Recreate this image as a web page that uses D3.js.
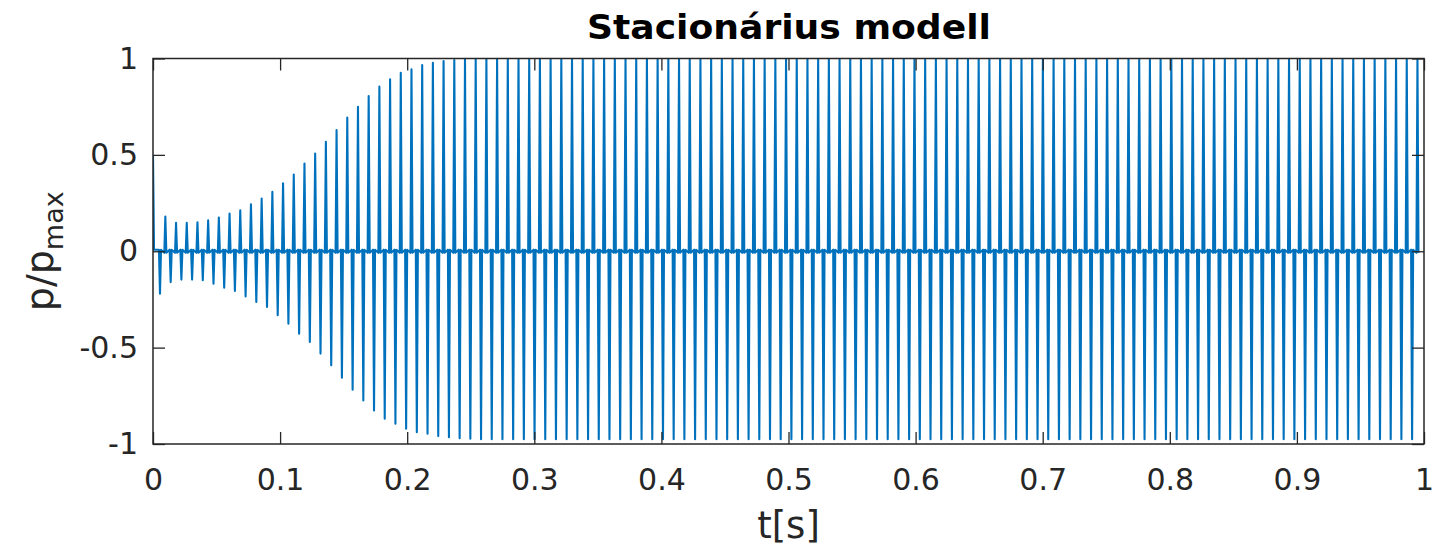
<!DOCTYPE html>
<html>
<head>
<meta charset="utf-8">
<script src="https://cdn.jsdelivr.net/npm/d3@7"></script>
<style>
  html, body { margin: 0; padding: 0; background: #fff; }
  svg { display: block; font-family: "DejaVu Sans", sans-serif; }
</style>
</head>
<body>
<svg id="chart" width="1437" height="546"></svg>
<script>
// values
var startValue = 0.5;        // p/pmax at t = 0
var firstNegPeak = 0.0055;   // s
var period = 0.00842;        // s, one oscillation
var spikeHalf = 0.0008;      // s, half width of a spike at its foot
var ripple = 0.008;          // small wiggle around zero between spikes

var upperPeaks = [
  0.18, 0.147, 0.147, 0.15, 0.16, 0.175, 0.196, 0.213, 0.244, 0.274,
  0.308, 0.352, 0.398, 0.455, 0.507, 0.568, 0.629, 0.694, 0.75, 0.805,
  0.854, 0.892, 0.926, 0.944, 0.966, 0.978, 0.987, 0.992, 0.996, 1,
  1, 1, 1, 1, 1, 1, 1, 1, 1, 1,
  1, 1, 1, 1, 1, 1, 1, 1, 1, 1,
  1, 1, 1, 1, 1, 1, 1, 1, 1, 1,
  1, 1, 1, 1, 1, 1, 1, 1, 1, 1,
  1, 1, 1, 1, 1, 1, 1, 1, 1, 1,
  1, 1, 1, 1, 1, 1, 1, 1, 1, 1,
  1, 1, 1, 1, 1, 1, 1, 1, 1, 1,
  1, 1, 1, 1, 1, 1, 1, 1, 1, 1,
  1, 1, 1, 1, 1, 1, 1, 1
];
var lowerPeaks = [
  -0.22, -0.16, -0.147, -0.147, -0.15, -0.168, -0.189, -0.206, -0.234, -0.263,
  -0.289, -0.332, -0.376, -0.428, -0.471, -0.531, -0.592, -0.656, -0.718, -0.774,
  -0.826, -0.869, -0.895, -0.921, -0.939, -0.947, -0.959, -0.965, -0.97, -0.973,
  -0.975, -0.975, -0.975, -0.975, -0.975, -0.975, -0.975, -0.975, -0.975, -0.975,
  -0.975, -0.975, -0.975, -0.975, -0.975, -0.975, -0.975, -0.975, -0.975, -0.975,
  -0.975, -0.975, -0.975, -0.975, -0.975, -0.975, -0.975, -0.975, -0.975, -0.975,
  -0.975, -0.975, -0.975, -0.975, -0.975, -0.975, -0.975, -0.975, -0.975, -0.975,
  -0.975, -0.975, -0.975, -0.975, -0.975, -0.975, -0.975, -0.975, -0.975, -0.975,
  -0.975, -0.975, -0.975, -0.975, -0.975, -0.975, -0.975, -0.975, -0.975, -0.975,
  -0.975, -0.975, -0.975, -0.975, -0.975, -0.975, -0.975, -0.975, -0.975, -0.975,
  -0.975, -0.975, -0.975, -0.975, -0.975, -0.975, -0.975, -0.975, -0.975, -0.975,
  -0.975, -0.975, -0.975, -0.975, -0.975, -0.975, -0.975, -0.975
];

var xTicks = [0, 0.1, 0.2, 0.3, 0.4, 0.5, 0.6, 0.7, 0.8, 0.9, 1];
var xTickLabels = ['0', '0.1', '0.2', '0.3', '0.4', '0.5', '0.6', '0.7', '0.8', '0.9', '1'];
var yTicks = [-1, -0.5, 0, 0.5, 1];
var yTickLabels = ['-1', '-0.5', '0', '0.5', '1'];

var titleText = 'Stacionárius modell';

var margin = {top: 58.5, right: 13, bottom: 102, left: 153};
var width = 1437 - margin.left - margin.right;
var height = 546 - margin.top - margin.bottom;
var ink = '#262626';
var lineColor = '#0072bd';

var svg = d3.select('#chart');
var g = svg.append('g').attr('transform', 'translate(' + margin.left + ',' + margin.top + ')');

var x = d3.scaleLinear().domain([0, 1]).range([0, width]);
var y = d3.scaleLinear().domain([-1, 1]).range([height, 0]);

// build the trace from the peak lists
var pts = [[0, startValue], [spikeHalf, ripple]];
upperPeaks.forEach(function(up, k){
  var tn = firstNegPeak + k * period;
  var tp = tn + period / 2;
  pts.push([tn - spikeHalf, ripple]);
  pts.push([tn, lowerPeaks[k]]);
  pts.push([tn + spikeHalf, ripple]);
  pts.push([tp - spikeHalf, -ripple]);
  pts.push([tp, up]);
  pts.push([tp + spikeHalf, -ripple]);
});
pts = pts.filter(function(p){ return p[0] <= 1; });

g.append('clipPath').attr('id', 'clip')
  .append('rect').attr('width', width).attr('height', height);

var line = d3.line()
  .x(function(d){ return x(d[0]); })
  .y(function(d){ return y(d[1]); });

g.append('path')
  .datum(pts)
  .attr('clip-path', 'url(#clip)')
  .attr('d', line)
  .style('fill', 'none')
  .style('stroke', lineColor)
  .style('stroke-width', 2.1)
  .style('stroke-linejoin', 'round');

// axes, ticks inside like matlab
var tickLen = 12;
var fontSize = 30;

var xAxis = d3.axisBottom(x).tickValues(xTicks)
  .tickFormat(function(d, i){ return xTickLabels[i]; })
  .tickSizeInner(-tickLen).tickSizeOuter(0).tickPadding(25);
var xAxisTop = d3.axisTop(x).tickValues(xTicks).tickFormat('')
  .tickSizeInner(-tickLen).tickSizeOuter(0);
var yAxis = d3.axisLeft(y).tickValues(yTicks)
  .tickFormat(function(d, i){ return yTickLabels[i]; })
  .tickSizeInner(-tickLen).tickSizeOuter(0).tickPadding(15);
var yAxisRight = d3.axisRight(y).tickValues(yTicks).tickFormat('')
  .tickSizeInner(-tickLen).tickSizeOuter(0);

function styleAxis(sel){
  sel.select('.domain').remove();
  sel.selectAll('line').style('stroke', ink).style('stroke-width', 1.3);
  sel.selectAll('text').style('fill', ink).style('font-size', fontSize + 'px')
    .style('font-family', '"DejaVu Sans", sans-serif');
}

g.append('g').attr('transform', 'translate(0,' + height + ')').call(xAxis).call(styleAxis);
g.append('g').call(xAxisTop).call(styleAxis);
g.append('g').call(yAxis).call(styleAxis);
g.append('g').attr('transform', 'translate(' + width + ',0)').call(yAxisRight).call(styleAxis);

g.append('rect')
  .attr('width', width).attr('height', height)
  .style('fill', 'none').style('stroke', ink).style('stroke-width', 1.5);

// title and labels
svg.append('text')
  .attr('x', 587).attr('y', 39)
  .attr('textLength', 404).attr('lengthAdjust', 'spacingAndGlyphs')
  .style('font-weight', 'bold').style('font-size', '33px').style('fill', '#000')
  .text(titleText);

svg.append('text')
  .attr('x', margin.left + width / 2).attr('y', 538)
  .attr('text-anchor', 'middle')
  .style('font-size', '37px').style('fill', ink)
  .text('t[s]');

var yl = svg.append('text')
  .attr('transform', 'translate(53,' + (margin.top + height / 2) + ') rotate(-90)')
  .attr('text-anchor', 'middle')
  .style('font-size', '38px').style('fill', ink);
yl.append('tspan').text('p/p');
yl.append('tspan').attr('dy', 10).style('font-size', '27px').text('max');
</script>
</body>
</html>
